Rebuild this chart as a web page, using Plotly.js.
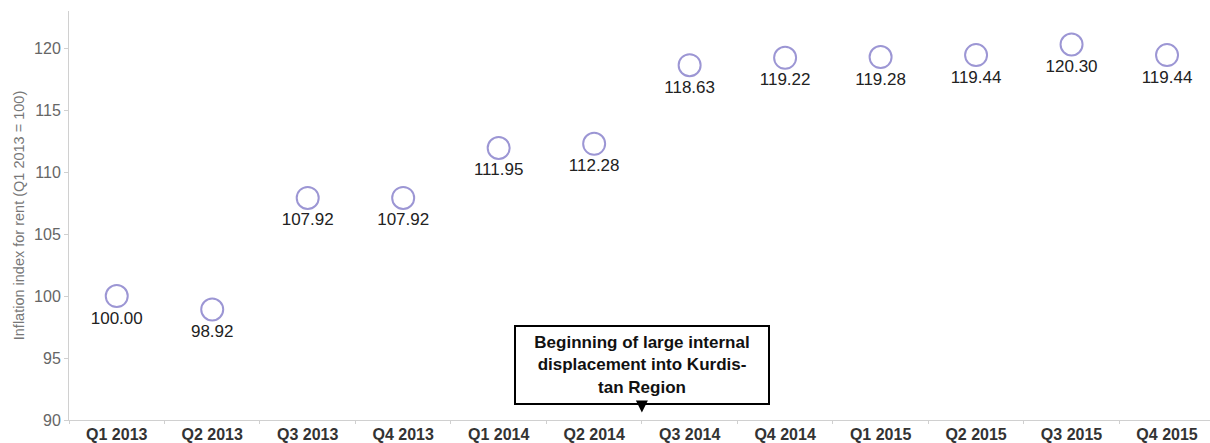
<!DOCTYPE html>
<html>
<head>
<meta charset="utf-8">
<script src="https://cdn.plot.ly/plotly-3.0.1.min.js"></script>
<style>html,body{margin:0;padding:0;background:#fff;}#chart{width:1210px;height:443px;}</style>
</head>
<body>
<div id="chart"></div>
<script>
const quarters = ["Q1 2013","Q2 2013","Q3 2013","Q4 2013","Q1 2014","Q2 2014","Q3 2014","Q4 2014","Q1 2015","Q2 2015","Q3 2015","Q4 2015"];
const rentIndex = [100.00, 98.92, 107.92, 107.92, 111.95, 112.28, 118.63, 119.22, 119.28, 119.44, 120.30, 119.44];
const yTicks = [90, 95, 100, 105, 110, 115, 120];
const noteText = "Beginning of large internal<br>displacement into Kurdis-<br>tan Region";

const trace = {
  type: "scatter",
  mode: "markers+text",
  x: quarters,
  y: rentIndex,
  text: rentIndex.map(v => v.toFixed(2)),
  textposition: "bottom center",
  textfont: {family: "Liberation Sans, Arial, sans-serif", size: 17, color: "#222"},
  marker: {symbol: "circle-open", size: 22, color: "#9c96d4", line: {width: 2, color: "#9c96d4"}},
  cliponaxis: false,
  hoverinfo: "skip"
};

const layout = {
  width: 1210, height: 443,
  margin: {l: 69, r: 0, t: 11, b: 23},
  paper_bgcolor: "#fff", plot_bgcolor: "#fff",
  showlegend: false,
  font: {family: "Liberation Sans, Arial, sans-serif"},
  xaxis: {
    type: "category",
    range: [-0.5, 11.45],
    tickson: "boundaries",
    ticks: "outside", ticklen: 3, tickcolor: "#d0d0d0",
    showline: true, linecolor: "#d0d0d0", linewidth: 1,
    showgrid: false, zeroline: false,
    tickfont: {family: "Liberation Sans, Arial, sans-serif", size: 16, color: "#333", weight: "bold"}
  },
  yaxis: {
    range: [90, 123],
    tickvals: yTicks,
    ticks: "outside", ticklen: 4, tickcolor: "#d0d0d0",
    showline: true, linecolor: "#d0d0d0", linewidth: 1,
    showgrid: false, zeroline: false,
    tickfont: {size: 16, color: "#666"},
    title: {text: "Inflation index for rent (Q1 2013 = 100)", font: {size: 14.5, color: "#777"}, standoff: 6}
  },
  annotations: [{
    x: 5.5, y: 90.6, xref: "x", yref: "y",
    text: noteText,
    showarrow: true, arrowhead: 2, arrowsize: 1.2, arrowwidth: 2, arrowcolor: "#000",
    ax: 0, ay: -48, standoff: 0,
    font: {size: 17, color: "#111", weight: "bold"},
    align: "center",
    bgcolor: "#fff", bordercolor: "#000", borderwidth: 2, borderpad: 3,
    width: 246, height: 70
  }]
};

Plotly.newPlot("chart", [trace], layout, {displayModeBar: false, staticPlot: true});
</script>
</body>
</html>
